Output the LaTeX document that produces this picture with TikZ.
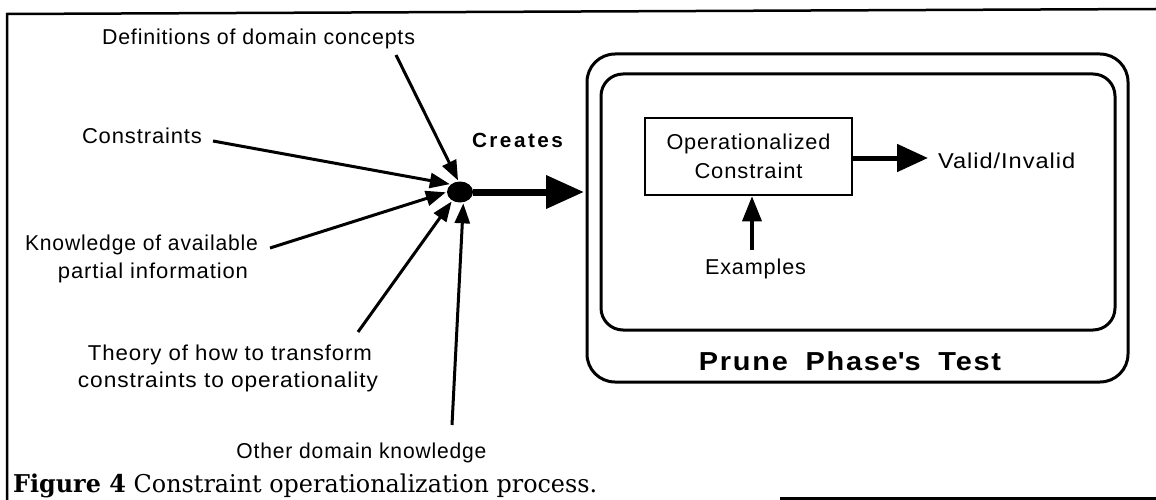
\documentclass[tikz,border=0pt]{standalone}
\usepackage{fontspec}
\usepackage{graphicx}
\setmainfont{Liberation Sans}
\newfontfamily\lblfont[LetterSpace=4]{Liberation Sans}
\newfontfamily\crfont[LetterSpace=12]{Liberation Sans}
\newfontfamily\prfont[LetterSpace=6]{Liberation Sans}
\newfontfamily\capfont{DejaVu Serif}
\newcommand\fitw[2]{\resizebox{#1}{\height}{#2}}
\usetikzlibrary{arrows.meta,shapes.geometric}
\tikzset{
  lbl/.style={inner sep=0pt, font=\lblfont\fontsize{21.5}{26}\selectfont},
  arr/.style={line width=3pt, -{Triangle[length=20pt,width=15pt]}, shorten >=1pt},
  frameline/.style={line width=2.5pt},
  roundbox/.style={line width=3pt},
}
\begin{document}
\begin{tikzpicture}[x=1pt,y=-1pt]
\useasboundingbox (0,0) rectangle (1156,500);
% outer frame
\draw[frameline] (7,500) -- (7,14) -- (1156,9);
\draw[frameline] (780,498.5) -- (1156,498.5);

% labels on the left
\node[lbl, anchor=base] (def) at (258.5,45) {\fitw{313pt}{Definitions of domain concepts}};
\node[lbl, anchor=base] (con) at (142,143) {\fitw{120pt}{Constraints}};
\node[lbl, anchor=base] (kn1) at (141.5,250) {\fitw{233pt}{Knowledge of available}};
\node[lbl, anchor=base] (kn2) at (153,278) {\fitw{190pt}{partial information}};
\node[lbl, anchor=base] (th1) at (230,360) {\fitw{284pt}{Theory of how to transform}};
\node[lbl, anchor=base] (th2) at (228,387) {\fitw{300pt}{constraints to operationality}};
\node[lbl, anchor=base] (oth) at (361.5,458) {\fitw{250pt}{Other domain knowledge}};

% the dot
\node[ellipse, fill=black, minimum width=26pt, minimum height=21pt, inner sep=0pt] (dot) at (460,192) {};

% arrow start points
\coordinate (sdef) at (396,55);
\coordinate (scon) at (213,141);
\coordinate (skn) at (270,248);
\coordinate (sth) at (358,332);
\coordinate (soth) at (452,425);

\draw[arr] (sdef) -- (dot.98);
\draw[arr] (scon) -- (dot.140);
\draw[arr] (skn) -- (dot.180);
\draw[arr] (sth) -- (dot.228);
\draw[arr] (soth) -- (dot.288);

% Creates
\node[inner sep=0pt, anchor=base, font=\crfont\bfseries\fontsize{20.5}{24}\selectfont] (cre) at (517.5,147) {\fitw{91pt}{Creates}};
\coordinate (ctip) at (584,192);
\draw[line width=7pt, -{Triangle[length=38pt,width=32pt]}] (dot.east) -- (ctip);

% rounded boxes
\draw[roundbox, rounded corners=28pt] (587,54) rectangle (1128,382);
\draw[roundbox, rounded corners=22pt] (601,74) rectangle (1115,330);

% operationalized constraint
\node[draw, line width=2.5pt, minimum width=207pt, minimum height=77pt, inner sep=0pt, align=center,
      font=\lblfont\fontsize{21.5}{29}\selectfont] (oc) at (748.5,156.5) {\fitw{164pt}{Operationalized}\\\fitw{108pt}{Constraint}};
\node[lbl, anchor=base west] (val) at (938,168) {\fitw{137pt}{Valid/Invalid}};
\coordinate (vtip) at (928,158);
\draw[line width=5pt, -{Triangle[length=31pt,width=27pt]}] (oc.east |- vtip) -- (vtip);

\node[lbl, anchor=base] (ex) at (755.5,274) {\fitw{101pt}{Examples}};
\coordinate (sex) at (752,250);
\draw[line width=3.5pt, -{Triangle[length=25pt,width=19pt]}] (sex) -- (oc.south -| sex);

% prune phase's test
\node[inner sep=0pt, anchor=base, font=\prfont\bfseries\fontsize{26}{30}\selectfont] (pr) at (850,370)
  {\fitw{302pt}{Prune\hspace{16pt}Phase\textquotesingle s\hspace{16pt}Test}};

% caption
\node[inner sep=0pt, anchor=base west, font=\capfont\fontsize{24.5}{30}\selectfont] (cap) at (13,492)
  {\fitw{584pt}{\textbf{Figure 4}\hspace{8pt}Constraint operationalization process.}};
\end{tikzpicture}
\end{document}
